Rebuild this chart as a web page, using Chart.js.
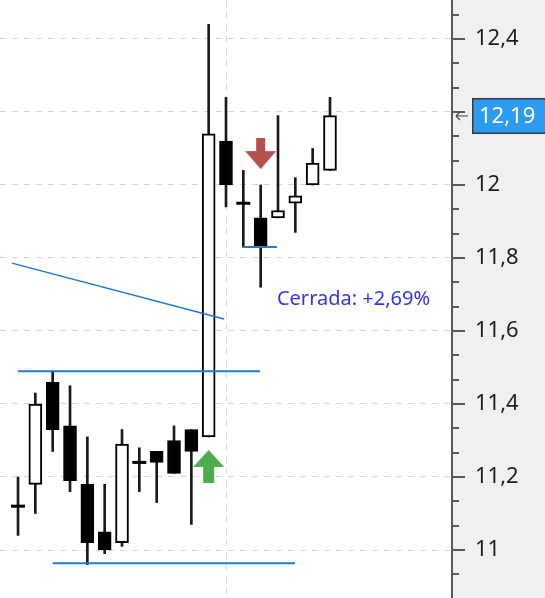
<!DOCTYPE html>
<html>
<head>
<meta charset="utf-8">
<script src="https://cdn.jsdelivr.net/npm/chart.js@4.4.1/dist/chart.umd.min.js"></script>
<style>
  html, body { margin: 0; padding: 0; background: #fff; }
  #wrap { width: 545px; height: 598px; position: relative; }
</style>
</head>
<body>
<div id="wrap"><canvas id="c" width="545" height="598"></canvas></div>
<script>
// ---- Data ----
const barIndex = [0,1,2,3,4,5,6,7,8,9,10,11,12,13,14,15,16,17,18];
const opens  = [11.12,11.18,11.46,11.34,11.18,11.05,11.02,11.24,11.27,11.30,11.33,11.31,12.12,11.95,11.91,11.91,11.95,12.00,12.04];
const highs  = [11.20,11.43,11.49,11.45,11.31,11.18,11.33,11.28,11.27,11.34,11.33,12.44,12.24,12.04,12.00,12.19,12.02,12.10,12.24];
const lows   = [11.04,11.10,11.27,11.16,10.96,10.99,11.01,11.16,11.13,11.21,11.07,11.31,11.94,11.83,11.72,11.91,11.87,12.00,12.04];
const closes = [11.12,11.40,11.33,11.19,11.02,11.00,11.29,11.24,11.24,11.21,11.27,12.14,12.00,11.95,11.83,11.93,11.97,12.06,12.19];

// drawn lines (bar index, price)
const resistanceLine = [{x: 0, y: 11.49}, {x: 13.96, y: 11.49}];
const supportLine    = [{x: 2, y: 10.964}, {x: 15.98, y: 10.964}];
const trendLine      = [{x: -0.35, y: 11.786}, {x: 11.89, y: 11.633}];
const stopLine       = [{x: 12.98, y: 11.83}, {x: 14.94, y: 11.83}];

// signals
const buySignals  = [{x: 11, y: 11.229}];
const sellSignals = [{x: 14, y: 12.086}];

// note
const noteText = 'Cerrada: +2,69%';
const notePos = {x: 14.94, y: 11.688};

// axis
const yMin = 10.8685, yMax = 12.5068;
const xMin = -1.04, xMax = 25.04;
const verticalGridAt = [12];
const tickStepsPerUnit = 15; // minor ticks every 1/15, major every 0.2

// ---- helpers ----
const FONT = "'Noto Sans', 'Segoe UI', 'DejaVu Sans', sans-serif";
function fmt(v, d) {
  let s = d === undefined ? (+v.toFixed(1)).toString() : v.toFixed(d);
  return s.replace('.', ',');
}
function makeArrow(color, up) {
  const c = document.createElement('canvas');
  const g = c.getContext('2d');
  if (up) {
    c.width = 31; c.height = 33;
    g.fillStyle = color; g.beginPath();
    g.moveTo(15.5, 0); g.lineTo(31, 17); g.lineTo(21, 17); g.lineTo(21, 33);
    g.lineTo(10, 33); g.lineTo(10, 17); g.lineTo(0, 17);
  } else {
    c.width = 31; c.height = 31;
    g.fillStyle = color; g.beginPath();
    g.moveTo(11, 0); g.lineTo(20, 0); g.lineTo(20, 13); g.lineTo(31, 13);
    g.lineTo(15.5, 31); g.lineTo(0, 13); g.lineTo(11, 13);
  }
  g.closePath(); g.fill();
  return c;
}
const greenArrow = makeArrow('#4fab4f', true);
const redArrow = makeArrow('#b7514d', false);

const wickData = barIndex.map(i => ({x: i, y: [lows[i], highs[i]]}));
const bodyData = barIndex.map(i => ({x: i, y: [opens[i], closes[i]]}));
const bodyColors = barIndex.map(i => closes[i] >= opens[i] ? '#ffffff' : '#000000');
const dojiData = barIndex.filter(i => opens[i] === closes[i]).map(i => ({x: i, y: opens[i]}));

const BLUE = '#1e7ad6';
function lineDs(data, w) {
  return {type: 'line', data, borderColor: BLUE, borderWidth: w, pointRadius: 0,
          fill: false, tension: 0, order: 0};
}

const decor = {
  id: 'decor',
  beforeDraw(chart) {
    const {ctx, chartArea: a} = chart;
    ctx.save();
    ctx.fillStyle = '#ffffff';
    ctx.fillRect(0, 0, chart.width, chart.height);
    ctx.fillStyle = '#f0f0f0';
    ctx.fillRect(a.right, 0, chart.width - a.right, chart.height);
    ctx.restore();
  },
  afterDatasetsDraw(chart) {
    const {ctx} = chart;
    const xs = chart.scales.x, ys = chart.scales.y;
    ctx.save();
    ctx.font = '20px ' + FONT;
    ctx.fillStyle = '#3434ee';
    ctx.textAlign = 'left';
    ctx.textBaseline = 'middle';
    ctx.fillText(noteText, xs.getPixelForValue(notePos.x), ys.getPixelForValue(notePos.y));
    ctx.restore();
  },
  afterDraw(chart) {
    const {ctx, chartArea: a} = chart;
    const ys = chart.scales.y;
    ctx.save();
    // tick marks
    ctx.strokeStyle = '#5a5a5a';
    ctx.lineWidth = 2;
    ys.ticks.forEach(t => {
      const y = Math.round(ys.getPixelForValue(t.value));
      const len = t.major ? 13 : 7;
      ctx.beginPath();
      ctx.moveTo(a.right, y);
      ctx.lineTo(a.right + len, y);
      ctx.stroke();
    });
    // current price box
    const last = closes[closes.length - 1];
    const py = Math.round(ys.getPixelForValue(last));
    ctx.fillStyle = '#2b9cf2';
    ctx.fillRect(472, py - 18, chart.width - 472, 36);
    ctx.strokeStyle = '#3a3a3a';
    ctx.lineWidth = 1.5;
    ctx.strokeRect(472.75, py - 17.25, chart.width - 472, 34.5);
    ctx.fillStyle = '#ffffff';
    ctx.font = '22px ' + FONT;
    ctx.textAlign = 'left';
    ctx.textBaseline = 'middle';
    ctx.fillText(fmt(last, 2), 479, py + 1);
    // small arrow pointer at the axis
    ctx.strokeStyle = '#444';
    ctx.lineWidth = 1.2;
    ctx.beginPath();
    ctx.moveTo(468, py); ctx.lineTo(456, py);
    ctx.moveTo(456, py); ctx.lineTo(460, py - 4);
    ctx.moveTo(456, py); ctx.lineTo(460, py + 4);
    ctx.stroke();
    ctx.restore();
  }
};

new Chart(document.getElementById('c'), {
  type: 'bar',
  data: {
    datasets: [
      lineDs(resistanceLine, 2),
      lineDs(supportLine, 2),
      lineDs(trendLine, 1.5),
      lineDs(stopLine, 2),
      {type: 'scatter', data: buySignals, pointStyle: greenArrow, order: 0},
      {type: 'scatter', data: sellSignals, pointStyle: redArrow, order: 0},
      {type: 'scatter', data: dojiData, pointStyle: 'line', pointRadius: 7,
       borderColor: '#000', borderWidth: 3, order: 1},
      {type: 'bar', data: bodyData, backgroundColor: bodyColors, borderColor: '#000',
       borderWidth: 2, borderSkipped: false, barThickness: 13, grouped: false, order: 2},
      {type: 'bar', data: wickData, backgroundColor: '#1a1a1a', borderWidth: 0,
       barThickness: 2, grouped: false, order: 3}
    ]
  },
  options: {
    responsive: false,
    animation: false,
    devicePixelRatio: 1,
    events: [],
    layout: {padding: 0, autoPadding: false},
    plugins: {legend: {display: false}, tooltip: {enabled: false}},
    scales: {
      x: {
        type: 'linear', min: xMin, max: xMax, offset: false,
        grid: {offset: false, drawTicks: false, color: '#d6d6d6', lineWidth: 1},
        border: {display: false, dash: [6, 6]},
        ticks: {display: false},
        afterBuildTicks: s => { s.ticks = verticalGridAt.map(v => ({value: v})); },
        afterFit: s => { s.height = 0; s.paddingLeft = 0; s.paddingRight = 0; }
      },
      y: {
        type: 'linear', position: 'right', min: yMin, max: yMax, beginAtZero: false,
        afterBuildTicks: s => {
          const ticks = [];
          for (let k = Math.ceil(yMin * tickStepsPerUnit); k <= Math.floor(yMax * tickStepsPerUnit); k++) {
            ticks.push({value: k / tickStepsPerUnit, major: k % 3 === 0});
          }
          s.ticks = ticks;
        },
        afterFit: s => { s.width = 93; s.paddingTop = 0; s.paddingBottom = 0; },
        grid: {
          drawTicks: false,
          color: c => (c.tick && c.tick.major) ? '#d6d6d6' : 'rgba(0,0,0,0)',
          lineWidth: 1
        },
        border: {display: true, color: '#5a5a5a', width: 2, dash: [6, 6]},
        ticks: {
          autoSkip: false, padding: 23, color: '#1e1e1e',
          font: {family: FONT, size: 22},
          callback: function(v, i, ticks) { return ticks[i].major ? fmt(v) : ''; }
        }
      }
    }
  },
  plugins: [decor]
});
</script>
</body>
</html>
